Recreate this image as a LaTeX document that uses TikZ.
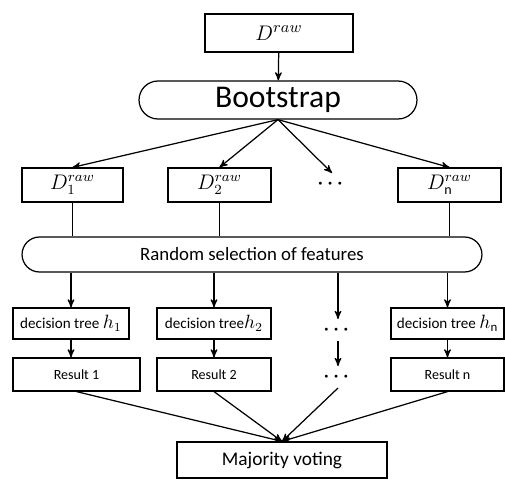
\documentclass[tikz,border=0pt]{standalone}
\usepackage{fontspec}
\setmainfont{Carlito}
\usepackage{amsmath}
\usetikzlibrary{arrows,shapes.misc}

\begin{document}
\begin{tikzpicture}[->,>=stealth',x=0.02cm,y=-0.02cm,line width=0.7pt,
                    box/.style={draw,rectangle,inner sep=0pt},
                    pill/.style={draw,rounded rectangle,inner sep=0pt}]

  \useasboundingbox (0,0) rectangle (505,480);

  \node[box,minimum width=2.96cm,minimum height=0.76cm] (R) at (279,33)
        {\fontsize{13}{15}\selectfont $D^{raw}$};
  \node[pill,minimum width=5.56cm,minimum height=0.76cm] (B) at (278,100)
        {\fontsize{18}{20}\selectfont Bootstrap};

  \node[box,minimum width=2.02cm,minimum height=0.68cm] (D1) at (72.5,185)
        {\fontsize{12}{14}\selectfont $D_1^{raw}$};
  \node[box,minimum width=2.06cm,minimum height=0.68cm] (D2) at (219.5,185)
        {\fontsize{12}{14}\selectfont $D_2^{raw}$};
  \node (Dd) at (332,184) {\fontsize{11}{13}\selectfont $\boldsymbol{\cdots}$};
  \node[box,minimum width=2.06cm,minimum height=0.68cm] (Dn) at (449.5,185)
        {\fontsize{12}{14}\selectfont $D_{\mathrm{n}}^{raw}$};

  \node[pill,minimum width=9.2cm,minimum height=0.7cm] (S) at (252,254.5)
        {\fontsize{10.7}{13}\selectfont Random selection of features};

  \node[box,minimum width=2.32cm,minimum height=0.62cm] (T1) at (71,323.5)
        {\fontsize{8.6}{10}\selectfont decision tree \fontsize{10.5}{12}\selectfont$h_1$};
  \node[box,minimum width=2.28cm,minimum height=0.62cm] (T2) at (214,323.5)
        {\fontsize{8.6}{10}\selectfont decision tree\fontsize{10.5}{12}\selectfont$h_2$};
  \node (Td) at (338,330) {\fontsize{11}{13}\selectfont $\boldsymbol{\cdots}$};
  \node[box,minimum width=2.26cm,minimum height=0.62cm] (Tn) at (447.5,323.5)
        {\fontsize{8.6}{10}\selectfont decision tree \fontsize{10.5}{12}\selectfont$h_{\mathrm{n}}$};

  \node[box,minimum width=2.54cm,minimum height=0.66cm] (E1) at (76.5,374.5)
        {\fontsize{8}{10}\selectfont Result 1};
  \node[box,minimum width=2.28cm,minimum height=0.66cm] (E2) at (214,374.5)
        {\fontsize{8}{10}\selectfont Result 2};
  \node (Ed) at (338,377) {\fontsize{11}{13}\selectfont $\boldsymbol{\cdots}$};
  \node[box,minimum width=2.26cm,minimum height=0.66cm] (En) at (447.5,374.5)
        {\fontsize{8}{10}\selectfont Result n};

  \node[box,minimum width=4.2cm,minimum height=0.72cm] (V) at (282,460)
        {\fontsize{11}{13}\selectfont Majority voting};

  \path (R) edge (B);

  \path (B.south) edge (D1.north);
  \path (B.south) edge (D2.north);
  \path (B.south) edge (Dd.north);
  \path (B.south) edge (Dn.north);

  \path (D1) edge [-] (D1 |- S.north);
  \path (D2) edge [-] (D2 |- S.north);
  \path (Dn) edge [-] (Dn |- S.north);

  \path (S.south -| T1) edge (T1);
  \path (S.south -| T2) edge (T2);
  \path (S.south -| Td) edge (Td.north);
  \path (S.south -| Tn) edge (Tn);

  \path (T1) edge (T1 |- E1.north);
  \path (T2) edge (E2);
  \path (Td) edge (Ed);
  \path (Tn) edge (En);

  \path (E1.south) edge (V.north);
  \path (E2.south) edge (V.north);
  \path (Ed.south) edge (V.north);
  \path (En.south) edge (V.north);

\end{tikzpicture}
\end{document}
